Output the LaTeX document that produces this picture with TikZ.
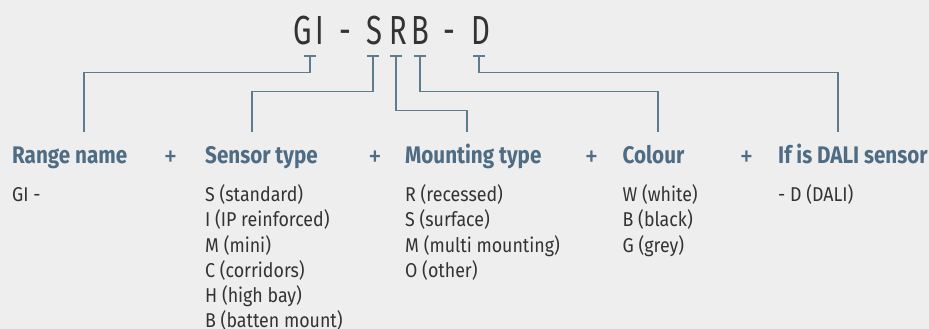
\documentclass[tikz,border=0pt]{standalone}
\usepackage{fontspec}
\setmainfont{Fira Sans}[FakeStretch=0.89]
\newfontfamily\titlefont{Fira Sans}[FakeStretch=0.72]
\newfontfamily\headfont{Fira Sans}[FakeStretch=0.86]

\definecolor{bgcol}{HTML}{EEEEEE}
\definecolor{leadcol}{HTML}{5F7B8E}
\definecolor{headcol}{HTML}{4E6C83}
\definecolor{bodycol}{HTML}{333333}

\tikzset{
  letter/.style={inner sep=0pt,anchor=base,text=bodycol,font=\titlefont\fontsize{40.6}{41}\selectfont},
  head/.style={inner sep=0pt,anchor=base west,text=headcol,font=\headfont\bfseries\fontsize{24}{24}\selectfont},
  plus/.style={inner sep=0pt,text=headcol,font=\fontsize{30}{30}\selectfont},
  body/.style={inner sep=0pt,anchor=base west,align=left,text=bodycol,font=\fontsize{20}{25.2}\selectfont},
  lead/.style={draw=leadcol,line width=1.3pt},
  tickbar/.style={draw=leadcol,line width=2.4pt}
}

\begin{document}
\begin{tikzpicture}[x=1pt,y=-1pt]
        \fill[bgcol] (0,0) rectangle (929,329);
        \useasboundingbox (0,0) rectangle (929,329);

        % code letters
        \node[letter] (cG) at (302.5,45) {G};
        \node[letter] (cI) at (320,45) {I};
        \node[letter] (dash1) at (345.5,45) {-};
        \node[letter] (cS) at (374.5,45) {S};
        \node[letter] (cR) at (398,45) {R};
        \node[letter] (cB) at (420.5,45) {B};
        \node[letter] (dash2) at (449.5,45) {-};
        \node[letter] (cD) at (481,45) {D};

        % ticks under the code
        \coordinate (tGI) at (310,56);
        \coordinate (tS) at (373,56);
        \coordinate (tR) at (396,56);
        \coordinate (tB) at (420,56);
        \coordinate (tD) at (479,56);
        \foreach \t in {tGI,tS,tR,tB,tD}
            \draw[tickbar] (\t) ++(-6,0) -- ++(12,0);

        % ends of the leads
        \coordinate (eGI) at (84,131.7);
        \coordinate (eS) at (252,131.7);
        \coordinate (eR) at (467,131.7);
        \coordinate (eB) at (658,131.7);
        \coordinate (eD) at (838,131.7);

        \draw[lead] (tGI) -- ++(0,16.7) -| (eGI);
        \draw[lead] (tS) -- ++(0,35.7) -| (eS);
        \draw[lead] (tR) -- ++(0,54.7) -| (eR);
        \draw[lead] (tB) -- ++(0,35.7) -| (eB);
        \draw[lead] (tD) -- ++(0,16.7) -| (eD);

        % headings
        \node[head] (hRange) at (12,163.3) {Range name};
        \node[head] (hSensor) at (205,163.3) {Sensor type};
        \node[head] (hMount) at (405,163.3) {Mounting type};
        \node[head] (hColour) at (622.5,163.3) {Colour};
        \node[head] (hDali) at (778,163.3) {If is DALI sensor};

        \node[plus] (p1) at (170.5,158.5) {+};
        \node[plus] (p2) at (375,158.5) {+};
        \node[plus] (p3) at (591.5,158.5) {+};
        \node[plus] (p4) at (746.5,158.5) {+};

        % options (anchored at the baseline of the last line)
        \node[body] (oRange) at (12,201.7) {GI -};
        \node[body] (oSensor) at (205,327.7) {S (standard)\\I (IP reinforced)\\M (mini)\\C (corridors)\\H (high bay)\\B (batten mount)};
        \node[body] (oMount) at (405,277.3) {R (recessed)\\S (surface)\\M (multi mounting)\\O (other)};
        \node[body] (oColour) at (622.5,252.1) {W (white)\\B (black)\\G (grey)};
        \node[body] (oDali) at (778,201.7) {- D (DALI)};
\end{tikzpicture}
\end{document}
